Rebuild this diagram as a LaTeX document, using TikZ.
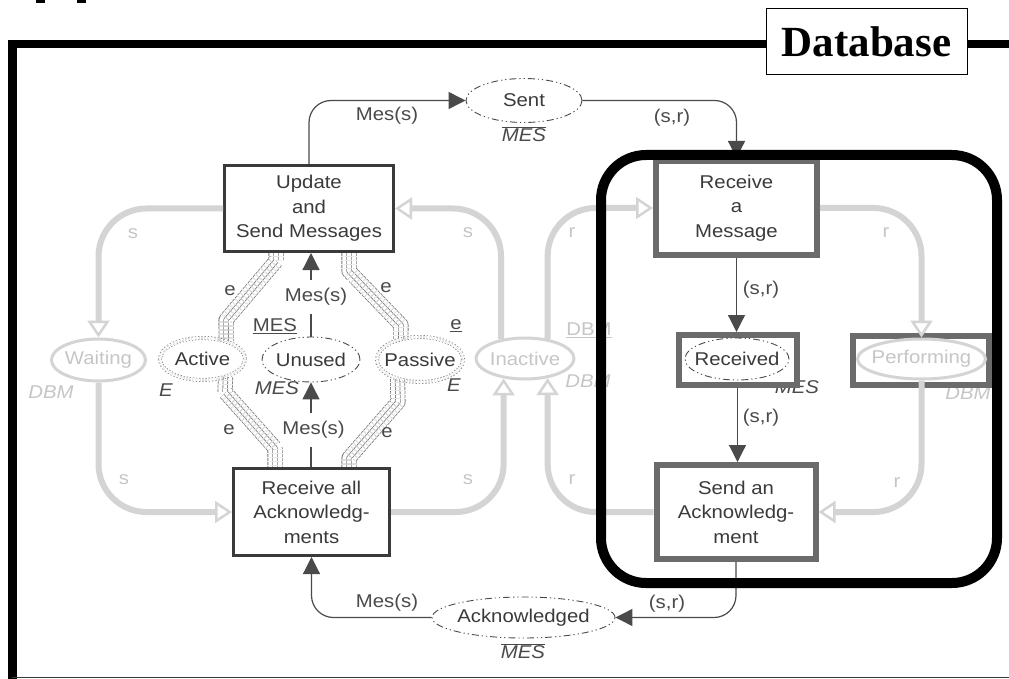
\documentclass[tikz,border=0pt]{standalone}
\usepackage{fontspec}
\setmainfont[FakeStretch=1.1]{Liberation Sans}
\newfontfamily\dbfont{Liberation Serif}
\usetikzlibrary{arrows.meta,shapes.geometric,calc}

\definecolor{ink}{HTML}{3A3A3A}
\definecolor{arcc}{HTML}{4A4A4A}
\definecolor{rbox}{HTML}{6B6B6B}
\definecolor{faint}{HTML}{D4D4D4}
\definecolor{fainttext}{HTML}{C6C6C6}
\definecolor{hatchc}{HTML}{7A7A7A}

\pgfdeclarelayer{bg}
\pgfdeclarelayer{under}
\pgfdeclarelayer{top}
\pgfsetlayers{bg,under,main,top}

\tikzset{
  txt/.style={font=\fontsize{18.5}{24.5}\selectfont, text=ink, align=center, inner sep=0pt},
  note/.style={font=\fontsize{18.5}{22}\selectfont, text=arcc, inner sep=0pt},
  inote/.style={font=\fontsize{18.5}{22}\selectfont\itshape, text=arcc, inner sep=0pt},
  gnote/.style={font=\fontsize{18.5}{22}\selectfont, text=fainttext, inner sep=0pt},
  ignote/.style={font=\fontsize{18.5}{22}\selectfont\itshape, text=fainttext, inner sep=0pt},
  plainbox/.style={rectangle, draw=ink, line width=3pt, fill=white, txt},
  heavybox/.style={rectangle, draw=rbox, line width=6pt, fill=white, txt},
  ptext/.style={txt},
  ftext/.style={txt, text=fainttext},
  place/.style={ellipse, draw=arcc, line width=0.9pt, inner sep=0pt,
    dash pattern=on 7pt off 3pt on 1.2pt off 3pt on 1.2pt off 3pt},
  varplace/.style={ellipse, draw=hatchc, line width=0.7pt, double=white,
    double distance=2.6pt, dash pattern=on 1.2pt off 2pt, inner sep=0pt},
  fadedplace/.style={ellipse, draw=faint, line width=3pt, inner sep=0pt},
  darc/.style={draw=arcc, line width=1.2pt, rounded corners=22pt,
    -{Triangle[length=17pt,width=17pt]}},
  garc/.style={draw=faint, line width=6pt, rounded corners=48pt,
    -{Triangle[open,length=17pt,width=22pt,line width=2.5pt 0]}},
  hatchwide/.style={draw=hatchc, line width=0.8pt, double=white,
    double distance=13.5pt, line join=round, dash pattern=on 3pt off 1pt},
  hatchnarrow/.style={draw=hatchc, line width=0.8pt, double=white,
    double distance=3.8pt, line join=round, dash pattern=on 3pt off 1pt},
}

\begin{document}
\begin{tikzpicture}[x=1pt,y=-1pt]
\useasboundingbox (0,0) rectangle (1009,679);
\begin{pgfonlayer}{bg}
  \fill[white] (0,0) rectangle (1009,679);
\end{pgfonlayer}

% clipped glyph stubs at the top edge
\fill[black] (36,0) rectangle (45,3);
\fill[black] (77,0) rectangle (86,3);

% outer frame
\draw[line width=8.5pt, line join=miter] (12.5,681) -- (12.5,44) -- (1011,44);
\draw[ink, line width=1.5pt] (12,677.5) -- (1011,677.5);

% transitions
\node[plainbox, minimum width=169pt, minimum height=86pt] (upd) at (309,208.5) {Update\\and\\Send Messages};
\node[plainbox, minimum width=156pt, minimum height=87pt] (rall) at (311.5,512) {Receive all\\Acknowledg-\\ments};
\node[heavybox, minimum width=161pt, minimum height=94pt] (rmsg) at (736.5,208) {Receive\\a\\Message};
\node[heavybox, minimum width=159pt, minimum height=94pt] (sack) at (736,512) {Send an\\Acknowledg-\\ment};

% labels partly hidden behind the place frames
\begin{pgfonlayer}{under}
  \node[inote] (rcvdtype) at (797,387) {MES};
  \node[ignote] (perftype) at (968,393) {DBM};
\end{pgfonlayer}

\node[heavybox, minimum width=118pt, minimum height=50pt] (rcvdbox) at (737.5,360) {};
\node[heavybox, minimum width=136pt, minimum height=49pt] (perfbox) at (921,360.5) {};

% places
\node[place, minimum width=116pt, minimum height=44pt, label={[ptext]center:Sent}] (sent) at (524,100.5) {};
\node[place, minimum width=183pt, minimum height=41pt, label={[ptext]center:Acknowledged}] (ackd) at (523.5,617.5) {};
\node[place, minimum width=98pt, minimum height=45pt, label={[ptext]center:Unused}] (unused) at (311,359.5) {};
\node[place, minimum width=104pt, minimum height=42pt, label={[ptext]center:Received}] (rcvd) at (737,359) {};
\node[varplace, minimum width=85pt, minimum height=42pt, label={[ptext]center:Active}] (active) at (202.5,359) {};
\node[varplace, minimum width=86pt, minimum height=45pt, label={[ptext]center:Passive}] (passive) at (420,359.5) {};
\node[fadedplace, minimum width=94pt, minimum height=42pt, label={[ftext]center:Waiting}] (waiting) at (98.5,360) {};
\node[fadedplace, minimum width=98pt, minimum height=41pt, label={[ftext]center:Inactive}] (inactive) at (525,358.5) {};
\node[fadedplace, minimum width=128pt, minimum height=40pt, label={[ftext]center:Performing}] (perf) at (921.5,359) {};

% message arcs
\draw[darc] (upd.north) |- (sent.west);
\draw[darc] (sent.east) -| (rmsg.north);
\draw[darc] (rmsg.south) -- (rmsg.south |- rcvdbox.north);
\draw[darc] (rcvdbox.south) -- (rcvdbox.south |- sack.north);
\draw[darc] (sack.south) |- (ackd.east);
\draw[darc] (ackd.west) -| (rall.south);
\draw[darc] (rall.north -| unused.south) -- (unused.south);
\draw[darc] (unused.north) -- (unused.north |- upd.south);

% state arcs of the sites
\draw[garc] (upd.west) -| (waiting.north);
\draw[garc] (waiting.south) |- (rall.west);
\draw[garc] (rall.east) -| (inactive.223);
\draw[garc] (inactive.141) |- (upd.east);
\draw[garc] (inactive.41) |- (rmsg.west);
\draw[garc] (sack.west) -| (inactive.319);
\draw[garc] (rmsg.east) -| (perf.north);
\draw[garc] (perf.south) |- (sack.east);

% bundled arcs of the e tokens
\begin{pgfonlayer}{under}
  \foreach \hs in {hatchwide,hatchnarrow}{
    \draw[\hs] ($(upd.south)+(-33,0)$) -- ++(0,8) -- (226,320) -- (active.37);
    \draw[\hs] ($(upd.south)+(40,0)$) -- ++(0,18) -- (401,325) -- (passive.133);
    \draw[\hs] (active.-38) -- (225,392) -- (275,448) -- ($(rall.north)+(-36.5,0)$);
    \draw[\hs] (passive.221) -- (398,402) -- (349,458) -- ($(rall.north)+(37.5,0)$);
  }
\end{pgfonlayer}

% arc inscriptions
\node[note] (l1) at (387,116) {Mes(s)};
\node[note] (l2) at (672,118) {(s,r)};
\node[note] (l3) at (761,290) {(s,r)};
\node[note] (l4) at (761,418) {(s,r)};
\node[note] (l5) at (667,604) {(s,r)};
\node[note] (l6) at (387,603) {Mes(s)};
\node[note, fill=white, inner xsep=2pt, inner ysep=8pt] (l7) at (316,297) {Mes(s)};
\node[note, fill=white, inner xsep=2pt, inner ysep=8pt] (l8) at (313.5,430) {Mes(s)};
\node[note] (e1) at (230,291) {e};
\node[note] (e2) at (386,288) {e};
\node[note] (e3) at (229,430) {e};
\node[note] (e4) at (387,433) {e};

% colour sets and initial markings
\node[note] (t1) at (524,134) {$\overline{\mbox{\itshape MES}}$};
\node[note] (t2) at (523,651) {$\overline{\mbox{\itshape MES}}$};
\node[note] (t3) at (275,326) {\underline{MES}};
\node[inote] (t4) at (277,388) {MES};
\node[inote] (t5) at (166,390) {E};
\node[note] (t6) at (456,326) {\underline{e}};
\node[inote] (t7) at (454,385) {E};
\node[ignote] (t8) at (51,392) {DBM};
\node[gnote] (t9) at (589,330) {\underline{DBM}};
\node[ignote] (t10) at (588,381) {DBM};

\node[gnote] (s1) at (133,234) {s};
\node[gnote] (s2) at (124,480) {s};
\node[gnote] (s3) at (468,480) {s};
\node[gnote] (s4) at (468,233) {s};
\node[gnote] (r1) at (572,233) {r};
\node[gnote] (r2) at (572,480) {r};
\node[gnote] (r3) at (886,233) {r};
\node[gnote] (r4) at (897,483) {r};

% database site outline and title
\begin{pgfonlayer}{top}
  \draw[line width=10pt, rounded corners=45pt] (601,155) rectangle (997,583);
  \node[draw=black, line width=1pt, fill=white, minimum width=201pt, minimum height=66pt,
        inner sep=0pt, font=\dbfont\bfseries\fontsize{43}{43}\selectfont] (db) at (866.5,42) {Database};
\end{pgfonlayer}
\end{tikzpicture}
\end{document}
